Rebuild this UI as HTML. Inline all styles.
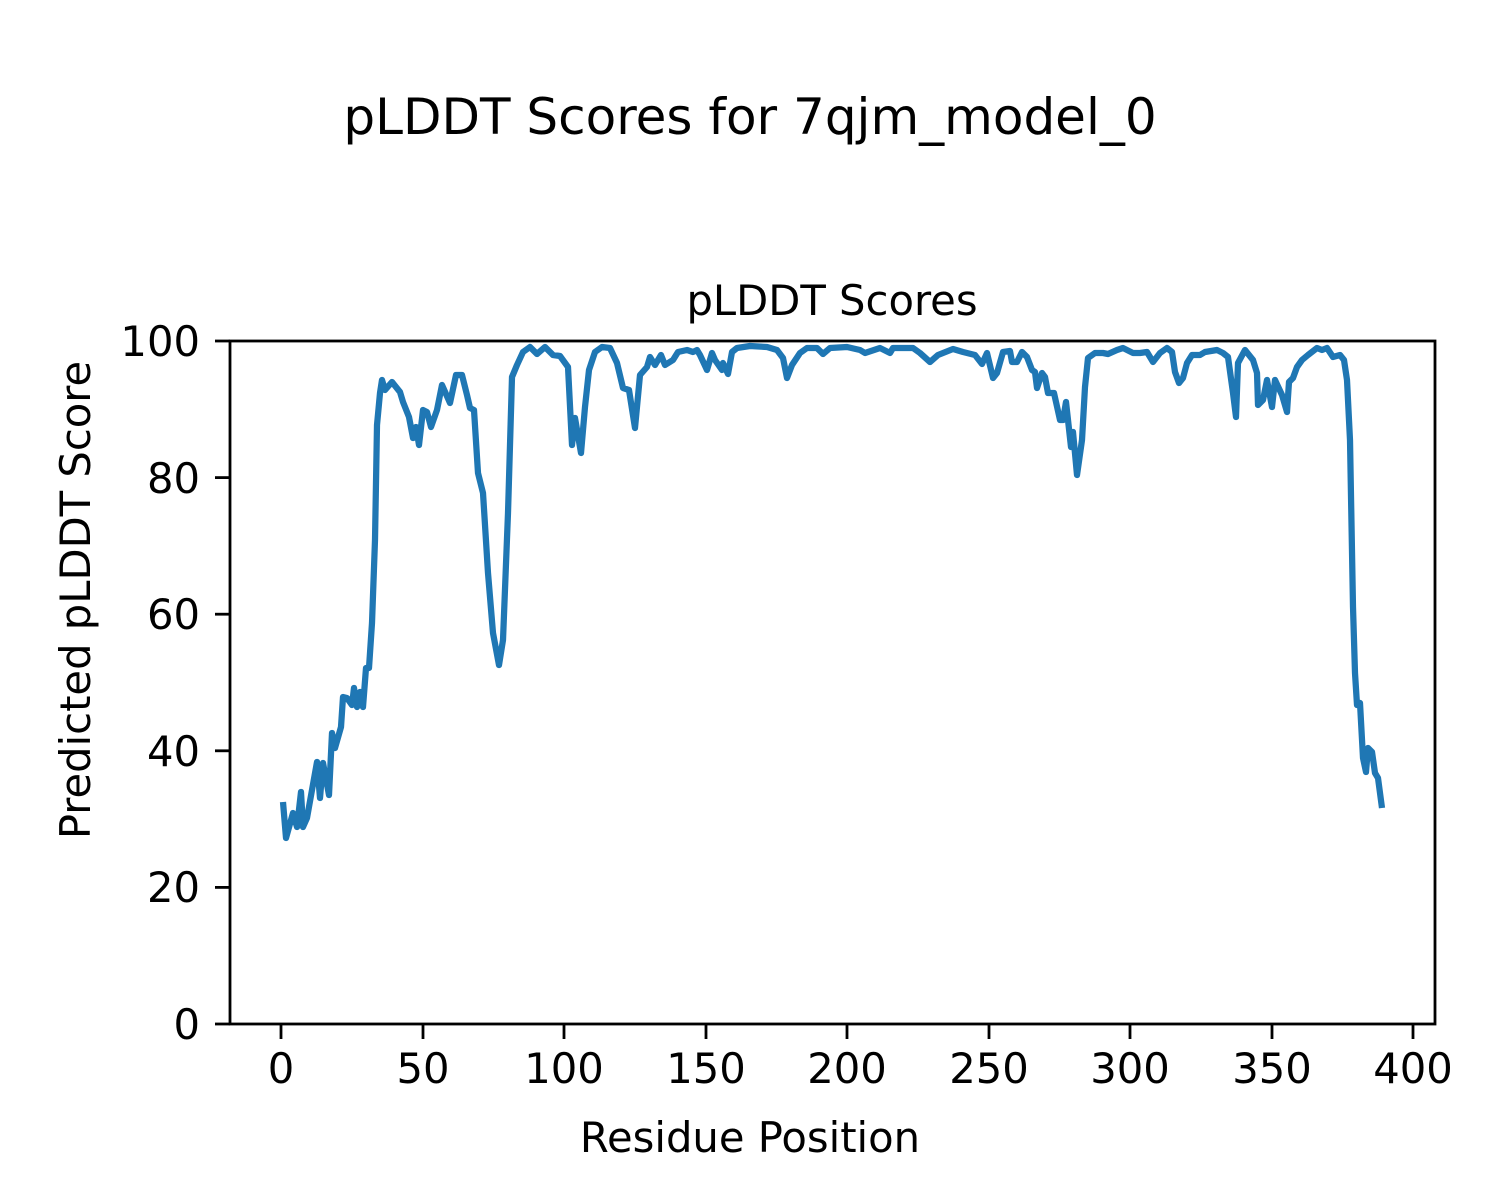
<!DOCTYPE html>
<html><head><meta charset="utf-8"><style>html,body{margin:0;padding:0;background:#fff}svg{display:block}</style></head>
<body>
<svg width="1500" height="1200" viewBox="0 0 1500 1200" xmlns="http://www.w3.org/2000/svg" font-family="DejaVu Sans, Liberation Sans, sans-serif">
<rect width="1500" height="1200" fill="#fff"/>
<text x="750" y="134" font-size="50" text-anchor="middle">pLDDT Scores for 7qjm_model_0</text>
<text x="832" y="315" font-size="41.7" text-anchor="middle">pLDDT Scores</text>
<polyline fill="none" stroke="#1f77b4" stroke-width="6.25" stroke-linejoin="round" points="283,802 286,838 293,813 297,827 301,792 303,827 307,818 317,762 320,798 323,763 329,795 332,733 335,748 341,727 343,697 347,698 352,705 354,688 357,707 360,692 363,707 366,668 369,668 372,623 375,540 377,425 380,393 382,380 385,390 392,382 400,392 403,402 409,417 413,438 416,427 419,445 423,410 427,412 431,427 437,410 442,385 450,403 456,375 462,375 467,395 470,408 474,410 478,473 483,493 488,573 493,633 499,665 503,640 508,513 512,377 517,365 523,352 530,347 537,354 545,347 553,355 560,356 568,367 572,445 575,418 581,453 585,407 589,370 595,352 602,347 610,348 617,363 623,388 629,390 635,428 640,375 647,367 650,357 655,365 661,355 665,365 673,360 678,352 687,350 693,352 697,350 700,355 707,370 712,353 715,360 722,370 723,363 728,374 732,352 737,348 750,346 767,347 777,350 783,358 787,378 792,365 800,353 807,348 817,348 823,354 830,348 847,347 860,350 865,353 880,348 890,353 893,348 913,348 920,353 930,362 938,355 953,349 963,352 975,355 982,364 987,353 993,378 997,373 1003,352 1010,351 1012,362 1017,362 1022,352 1027,357 1032,370 1035,372 1037,388 1042,373 1045,377 1048,393 1054,393 1060,420 1063,420 1066,402 1071,447 1073,432 1077,475 1082,440 1085,387 1088,358 1095,353 1103,353 1108,354 1117,350 1123,348 1133,353 1140,353 1147,352 1153,362 1160,353 1167,348 1172,352 1175,372 1179,383 1183,378 1187,363 1192,355 1200,355 1205,352 1217,350 1223,353 1228,357 1233,393 1236,417 1238,363 1245,350 1253,360 1257,373 1258,405 1263,400 1267,380 1272,407 1275,380 1282,395 1287,412 1289,382 1293,378 1297,367 1302,360 1308,355 1317,348 1322,350 1327,348 1333,357 1340,355 1344,360 1347,380 1350,440 1353,607 1355,673 1357,705 1360,703 1363,758 1366,772 1368,748 1372,752 1375,773 1378,778 1382,808"/>
<rect x="230" y="341" width="1205" height="683" fill="none" stroke="#000" stroke-width="2.8"/>
<g stroke="#000" stroke-width="2.8">
<line x1="281" y1="1024" x2="281" y2="1039"/><line x1="423" y1="1024" x2="423" y2="1039"/><line x1="564" y1="1024" x2="564" y2="1039"/><line x1="706" y1="1024" x2="706" y2="1039"/><line x1="847" y1="1024" x2="847" y2="1039"/><line x1="989" y1="1024" x2="989" y2="1039"/><line x1="1130" y1="1024" x2="1130" y2="1039"/><line x1="1272" y1="1024" x2="1272" y2="1039"/><line x1="1413" y1="1024" x2="1413" y2="1039"/>
<line x1="215" y1="1024" x2="230" y2="1024"/><line x1="215" y1="887.4" x2="230" y2="887.4"/><line x1="215" y1="750.8" x2="230" y2="750.8"/><line x1="215" y1="614.2" x2="230" y2="614.2"/><line x1="215" y1="477.6" x2="230" y2="477.6"/><line x1="215" y1="341" x2="230" y2="341"/>
</g>
<g font-size="41.7" text-anchor="middle">
<text x="281" y="1083">0</text><text x="423" y="1083">50</text><text x="564" y="1083">100</text><text x="706" y="1083">150</text><text x="847" y="1083">200</text><text x="989" y="1083">250</text><text x="1130" y="1083">300</text><text x="1272" y="1083">350</text><text x="1413" y="1083">400</text>
</g>
<g font-size="41.7" text-anchor="end">
<text x="200" y="1039">0</text><text x="200" y="902">20</text><text x="200" y="766">40</text><text x="200" y="629">60</text><text x="200" y="493">80</text><text x="200" y="356">100</text>
</g>
<text x="750" y="1152" font-size="41.7" text-anchor="middle">Residue Position</text>
<text transform="translate(90,600) rotate(-90)" font-size="41.7" text-anchor="middle">Predicted pLDDT Score</text>
</svg>
</body></html>
